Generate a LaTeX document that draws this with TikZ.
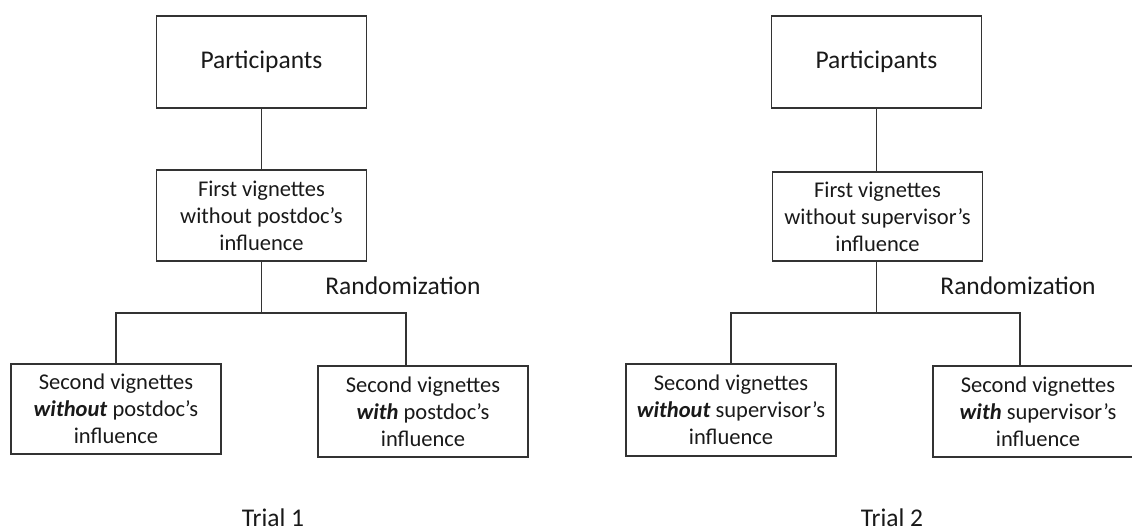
\documentclass[tikz,border=0pt]{standalone}
\usepackage{fontspec}
\setmainfont{Carlito}
\usetikzlibrary{positioning}

\begin{document}
\begin{tikzpicture}[x=1pt,y=-1pt]
    \tikzstyle{every node}=[inner sep=0,text=black!90]
    \tikzstyle{box}=[draw=black!80,line width=1.4,rectangle,minimum width=210,minimum height=91,align=center,font=\fontsize{22.5}{27}\selectfont]
    \tikzstyle{head}=[box,font=\fontsize{25.5}{30}\selectfont]
    \tikzstyle{note}=[font=\fontsize{25.5}{30}\selectfont]
    \tikzstyle{link}=[draw=black!80,line width=1.4]
    \useasboundingbox (0,0) rectangle (1132,531);
    \clip (0,0) rectangle (1132,531);
    {
        % Trial 1
        \node[head,minimum height=92] (p1) at (261.5,62) {Participants};
        \node[box] (f1) at (261.5,215.5) {First vignettes\\without postdoc’s\\influence};
        \node[box,minimum height=90] (a1) at (116,409) {Second vignettes\\\textbf{\textit{without}} postdoc’s\\influence};
        \node[box] (b1) at (423,411.5) {Second vignettes\\\textbf{\textit{with}} postdoc’s\\influence};
        \node[note] (rand1) at (403,286) {Randomization};
        \node[note,anchor=base] (trial1) at (273,526) {Trial 1};
        \coordinate (r1) at (261.5,313);

        \path[link] (p1) -- (f1);
        \path[link] (f1) -- (r1);
        \path[link] (a1.north) |- (r1) -| ([xshift=-17]b1.north);

        % Trial 2
        \node[head,minimum height=92] (p2) at (876.5,62) {Participants};
        \node[box,minimum height=89] (f2) at (877.5,216.5) {First vignettes\\without supervisor’s\\influence};
        \node[box,minimum height=92] (a2) at (731,410) {Second vignettes\\\textbf{\textit{without}} supervisor’s\\influence};
        \node[box] (b2) at (1038,411.5) {Second vignettes\\\textbf{\textit{with}} supervisor’s\\influence};
        \node[note] (rand2) at (1018,286) {Randomization};
        \node[note,anchor=base] (trial2) at (892,526) {Trial 2};
        \coordinate (r2) at (876.5,313);

        \path[link] (p2) -- (f2.north -| p2);
        \path[link] (f2.south -| p2) -- (r2);
        \path[link] (a2.north) |- (r2) -| ([xshift=-18]b2.north);
    }
\end{tikzpicture}
\end{document}
